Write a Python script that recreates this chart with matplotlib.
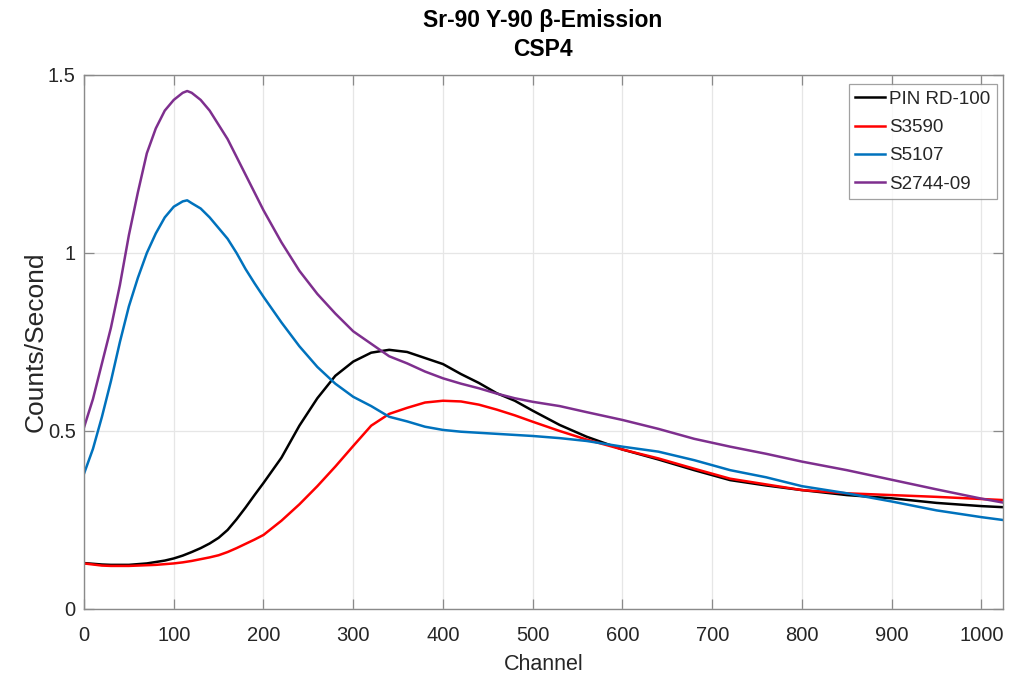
import matplotlib
matplotlib.use("Agg")
import matplotlib.pyplot as plt

channels = [0, 10, 20, 30, 40, 50, 60, 70, 80, 90, 100, 110, 115, 120, 130, 140, 150,
            160, 170, 180, 190, 200, 220, 240, 260, 280, 300, 320, 340, 360, 380, 400,
            420, 440, 460, 480, 500, 530, 560, 600, 640, 680, 720, 760, 800, 850, 900,
            950, 1000, 1024]

pin_rd100 = [0.129, 0.127, 0.125, 0.124, 0.124, 0.124, 0.126, 0.128, 0.132, 0.136, 0.142,
             0.150, 0.155, 0.160, 0.171, 0.184, 0.200, 0.222, 0.252, 0.285, 0.320, 0.354,
             0.425, 0.515, 0.592, 0.655, 0.695, 0.720, 0.728, 0.722, 0.705, 0.688, 0.660,
             0.635, 0.606, 0.585, 0.557, 0.517, 0.484, 0.448, 0.420, 0.390, 0.362, 0.347,
             0.334, 0.320, 0.311, 0.298, 0.289, 0.286]

s3590 = [0.128, 0.125, 0.122, 0.121, 0.121, 0.121, 0.122, 0.123, 0.124, 0.126, 0.128,
         0.131, 0.133, 0.135, 0.140, 0.145, 0.151, 0.160, 0.171, 0.183, 0.195, 0.208,
         0.248, 0.294, 0.345, 0.400, 0.458, 0.515, 0.548, 0.565, 0.580, 0.585, 0.583,
         0.574, 0.560, 0.544, 0.526, 0.500, 0.476, 0.448, 0.423, 0.394, 0.366, 0.350,
         0.334, 0.325, 0.320, 0.315, 0.309, 0.306]

s5107 = [0.380, 0.450, 0.540, 0.640, 0.750, 0.850, 0.930, 1.000, 1.055, 1.100, 1.130,
         1.145, 1.148, 1.140, 1.125, 1.100, 1.070, 1.040, 1.000, 0.955, 0.915, 0.877,
         0.805, 0.738, 0.680, 0.633, 0.596, 0.570, 0.540, 0.527, 0.512, 0.503, 0.498,
         0.495, 0.492, 0.489, 0.486, 0.480, 0.472, 0.456, 0.442, 0.418, 0.390, 0.370,
         0.345, 0.325, 0.302, 0.277, 0.258, 0.250]

s2744_09 = [0.510, 0.590, 0.690, 0.790, 0.910, 1.050, 1.170, 1.280, 1.350, 1.400, 1.430,
            1.450, 1.455, 1.450, 1.430, 1.400, 1.360, 1.320, 1.270, 1.220, 1.170, 1.120,
            1.030, 0.950, 0.885, 0.830, 0.780, 0.745, 0.710, 0.690, 0.667, 0.648, 0.633,
            0.620, 0.605, 0.592, 0.582, 0.570, 0.553, 0.531, 0.506, 0.478, 0.456, 0.436,
            0.414, 0.390, 0.363, 0.336, 0.310, 0.299]

series_names = ["PIN RD-100", "S3590", "S5107", "S2744-09"]
series_colors = ["#000000", "#FF0000", "#0072BD", "#7E2F8E"]

x_ticks = [0, 100, 200, 300, 400, 500, 600, 700, 800, 900, 1000]
y_ticks = [0, 0.5, 1, 1.5]
y_tick_labels = ["0", "0.5", "1", "1.5"]

FONT = ["Liberation Sans", "DejaVu Sans"]
plt.rcParams["font.family"] = FONT
TXT = "#262626"

fig = plt.figure(figsize=(10.17, 6.77), dpi=100)
ax = fig.add_axes([84 / 1017, 1 - 609 / 677, (1003 - 84) / 1017, (609 - 75) / 677])

for vals, name, col in zip([pin_rd100, s3590, s5107, s2744_09], series_names, series_colors):
    ax.plot(channels, vals, color=col, lw=1.8, label=name)

ax.set_xlim(0, 1024)
ax.set_ylim(0, 1.5)
ax.set_xticks(x_ticks)
ax.set_yticks(y_ticks)
ax.set_yticklabels(y_tick_labels)
ax.grid(True, color="#e6e6e6", lw=0.9)
ax.set_axisbelow(True)
ax.tick_params(direction="in", length=7, width=0.9, color="#8a8a8a",
               top=True, right=True, labelsize=14.5, labelcolor=TXT)
ax.tick_params(axis="x", pad=12)
ax.tick_params(axis="y", pad=6)
for s in ax.spines.values():
    s.set_color("#8a8a8a")
    s.set_linewidth(1.0)

ax.set_xlabel("Channel", fontsize=15.5, color=TXT, labelpad=7)
ax.set_ylabel("Counts/Second", fontsize=19, color=TXT, labelpad=0)

fig.text(543 / 1017, 1 - 21 / 677, "Sr-90 Y-90 β-Emission", ha="center", va="center",
         fontsize=16.5, fontweight="bold", color="#000000")
fig.text(543 / 1017, 1 - 49 / 677, "CSP4", ha="center", va="center",
         fontsize=16.5, fontweight="bold", color="#000000")

leg = ax.legend(loc="upper right", bbox_to_anchor=(997 / 1017, 1 - 84 / 677),
                bbox_transform=fig.transFigure, fontsize=13.5, frameon=True,
                fancybox=False, borderpad=0.35, labelspacing=0.6,
                handlelength=1.6, handletextpad=0.2, borderaxespad=0)
leg.get_frame().set_edgecolor("#8a8a8a")
leg.get_frame().set_linewidth(0.9)
for t in leg.get_texts():
    t.set_color(TXT)

fig.savefig("out.png", dpi=100)
